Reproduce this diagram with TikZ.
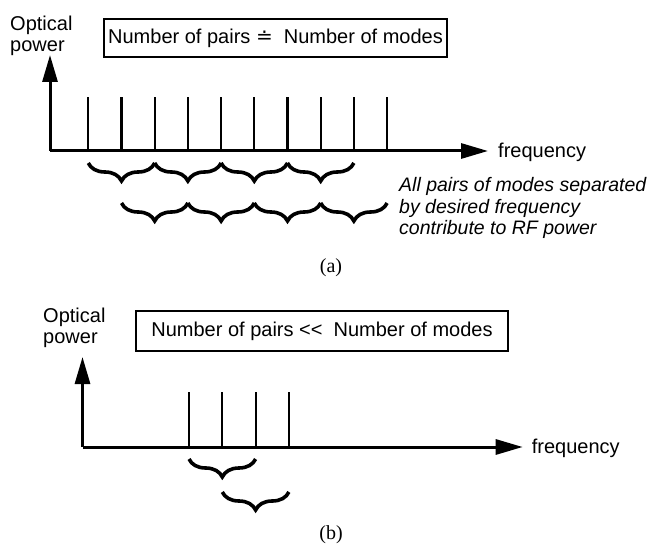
\documentclass[tikz,border=0pt]{standalone}
\usepackage{fontspec}
\setmainfont{Liberation Sans}
\newfontfamily\capfont{Liberation Serif}
\newfontfamily\symfont{DejaVu Sans}
\usetikzlibrary{arrows.meta,decorations.pathreplacing}

\tikzset{
  axis/.style={line width=3pt,-{Triangle[length=27pt,width=15pt]}},
  mode/.style={line width=2.2pt},
  pairbrace/.style={line width=3.6pt,decorate,decoration={brace,mirror,amplitude=18pt}},
  txt/.style={font=\fontsize{20}{21}\selectfont,inner sep=0pt},
  note/.style={font=\fontsize{19.5}{21.5}\selectfont\itshape,inner sep=0pt,align=left},
  ratiobox/.style={draw,line width=1.3pt,txt},
  caption/.style={font=\capfont\fontsize{20}{22}\selectfont,inner sep=0pt}
}

\begin{document}
\begin{tikzpicture}[x=1pt,y=-1pt]
  \useasboundingbox (0,0) rectangle (655,545);

  % (a) many pairs
  \coordinate (oa) at (50,151);
  \coordinate (ya) at (50,55);
  \coordinate (xa) at (488,151);
  \draw[axis] (oa) -- (ya);
  \draw[axis] (oa) -- (xa);
  \node[txt,anchor=north west,align=left] (powa) at (10,15.5) {Optical\\power};
  \node[ratiobox,minimum width=343pt,minimum height=38pt] (boxa) at (275.5,38)
    {Number of pairs {\symfont≐}\ \ Number of modes};
  \node[txt,anchor=base west] (freqa) at (498,158) {frequency};
  \foreach \k in {0,...,9} {
    \coordinate (a\k) at ({88.3+33.2*\k},151);
    \draw[mode] (a\k) -- ++(0,-54);
  }
  \foreach \k in {0,2,4,6}
    \draw[pairbrace] ({88.3+33.2*\k},163) -- ({154.7+33.2*\k},163);
  \foreach \k in {1,3,5,7}
    \draw[pairbrace] ({88.3+33.2*\k},203) -- ({154.7+33.2*\k},203);
  \node[note,anchor=north west] (notea) at (399,177.5)
    {All pairs of modes separated\\by desired frequency\\contribute to RF power};
  \node[caption] (capa) at (331,268) {(a)};

  % (b) few pairs
  \coordinate (ob) at (82.5,447);
  \coordinate (yb) at (82.5,357);
  \coordinate (xb) at (522.7,447);
  \draw[axis] (ob) -- (yb);
  \draw[axis] (ob) -- (xb);
  \node[txt,anchor=north west,align=left] (powb) at (43,307.5) {Optical\\power};
  \node[ratiobox,minimum width=372pt,minimum height=40pt] (boxb) at (322,331)
    {Number of pairs <{}<\ \ Number of modes};
  \node[txt,anchor=base west] (freqb) at (531.7,453) {frequency};
  \foreach \k in {0,...,3} {
    \coordinate (b\k) at ({189+33.3*\k},447);
    \draw[mode] (b\k) -- ++(0,-55.3);
  }
  \draw[pairbrace] (b0 |- 0,459) -- (b2 |- 0,459);
  \draw[pairbrace] (b1 |- 0,492) -- (b3 |- 0,492);
  \node[caption] (capb) at (331,535) {(b)};
\end{tikzpicture}
\end{document}
